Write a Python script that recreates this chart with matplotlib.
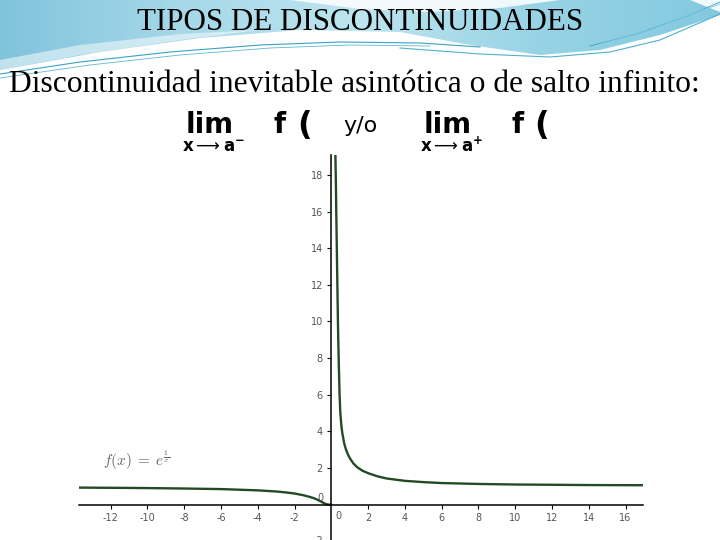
import numpy as np
import matplotlib
matplotlib.use("Agg")
import matplotlib.pyplot as plt
from matplotlib.patches import Polygon

# slide texts
title = "TIPOS DE DISCONTINUIDADES"
subtitle = "Discontinuidad inevitable asintótica o de salto infinito:"
func_label = r"$f(x)\;=\;e^{\frac{1}{x}}$"

# curve points, f(x) = e^(1/x)
x_left = [-13.72, -12, -10, -8, -6, -4, -3, -2.5, -2, -1.5, -1.2, -1.0,
          -0.8, -0.6, -0.45, -0.3, -0.2, -0.1, 0.0]
y_left = [0.93, 0.92, 0.905, 0.88, 0.85, 0.78, 0.72, 0.67, 0.61, 0.51, 0.43,
          0.37, 0.29, 0.19, 0.11, 0.036, 0.007, 0.0, 0.0]
x_right = [0.22, 0.25, 0.27, 0.30, 0.33, 0.36, 0.40, 0.45, 0.49, 0.55, 0.6,
           0.7, 0.8, 0.9, 1.0, 1.2, 1.4, 1.7, 2.0, 2.5, 3.0, 4.0, 5.0, 6.0,
           8.0, 10.0, 12.0, 14.0, 17.0]
y_right = [19.3, 17.5, 16.0, 14.0, 12.0, 10.0, 8.0, 6.0, 5.0, 4.3, 3.9,
           3.35, 3.0, 2.75, 2.55, 2.25, 2.05, 1.85, 1.72, 1.55, 1.43, 1.3,
           1.23, 1.18, 1.13, 1.10, 1.085, 1.07, 1.06]

x_ticks = [-12, -10, -8, -6, -4, -2, 2, 4, 6, 8, 10, 12, 14, 16]
y_ticks = [2, 4, 6, 8, 10, 12, 14, 16, 18]

fig = plt.figure(figsize=(7.2, 5.4), dpi=100)

# --- slide background (pixel coords) ---
bg = fig.add_axes([0, 0, 1, 1])
bg.set_xlim(0, 720)
bg.set_ylim(540, 0)
bg.axis("off")

edge_x = [0, 100, 200, 300, 400, 470, 540, 600, 660, 720]
edge_y = [70, 52, 38, 30, 32, 45, 55, 50, 35, 15]
band = Polygon([(0, 0), (720, 0)] + list(zip(edge_x[::-1], edge_y[::-1])),
               closed=True, facecolor="none", edgecolor="none")
bg.add_patch(band)
grad = np.linspace(0, 1, 256)[None, :]
cmap = matplotlib.colors.LinearSegmentedColormap.from_list(
    "slide", ["#80c4dc", "#a6d8e8", "#bde5ef", "#97d3e5", "#84c9e0"])
im = bg.imshow(grad, extent=(0, 720, 80, 0), cmap=cmap, aspect="auto", zorder=0)
im.set_clip_path(band)

# white swooshes
bg.add_patch(Polygon([(290, 0), (360, 9), (430, 12), (500, 8), (560, 0)],
                     closed=True, facecolor="white", edgecolor="none", alpha=0.85, zorder=1))
bg.add_patch(Polygon([(690, 0), (720, 0), (720, 12)],
                     closed=True, facecolor="white", edgecolor="none", alpha=0.9, zorder=1))
bg.add_patch(Polygon([(0, 60), (80, 45), (180, 34), (260, 30), (180, 40), (80, 55), (0, 70)],
                     closed=True, facecolor="white", edgecolor="none", alpha=0.5, zorder=1))

# thin teal lines
bg.plot([0, 80, 170, 260, 340, 420, 480], [74, 62, 52, 45, 42, 43, 47],
        color="#3aa2c0", lw=0.8, zorder=2)
bg.plot([0, 90, 180, 270, 350, 430], [78, 65, 55, 48, 45, 46],
        color="#5fb8d0", lw=0.6, zorder=2)
bg.plot([400, 480, 550, 610, 660, 720], [48, 54, 57, 52, 40, 14],
        color="#4fb0cc", lw=0.8, zorder=2)
bg.plot([590, 640, 690, 720], [46, 33, 15, 2], color="#3aa2c0", lw=0.6, zorder=2)
bg.plot([600, 650, 700, 720], [44, 30, 11, 4], color="#7ccbe0", lw=0.6, zorder=2)

bg.text(360, 23, title, family="Liberation Serif", fontsize=22.3,
        ha="center", va="center", color="black", zorder=3)
bg.text(354, 84, subtitle, family="Liberation Serif", fontsize=22.7,
        ha="center", va="center", color="black", zorder=3)

# limit notation
lim_kw = dict(family="DejaVu Sans", fontweight="bold", fontsize=20,
              va="baseline", color="black", zorder=3)
par_kw = dict(family="DejaVu Sans", fontweight="bold", fontsize=23,
              va="baseline", color="black", zorder=3)
sub_kw = dict(family="DejaVu Sans", fontweight="bold", fontsize=12,
              va="baseline", color="black", zorder=3)
bg.text(186, 133, "lim", **lim_kw)
bg.text(274, 133, "f", **lim_kw)
bg.text(297, 134, "(", **par_kw)
bg.text(424, 133, "lim", **lim_kw)
bg.text(511, 133, "f", **lim_kw)
bg.text(534, 134, "(", **par_kw)
bg.text(343, 132, "y/o", family="DejaVu Sans", fontsize=16, va="baseline", zorder=3)
bg.text(182, 152, r"x$\longrightarrow$a$^{\mathbf{-}}$", **sub_kw)
bg.text(420, 152, r"x$\longrightarrow$a$^{\mathbf{+}}$", **sub_kw)

# --- graph ---
ax = fig.add_axes([79 / 720, 0, 564 / 720, 385 / 540])
ax.set_facecolor("white")
ax.set_xlim(-13.72, 16.95)
ax.set_ylim(-1.93, 19.09)
for s in ["top", "right"]:
    ax.spines[s].set_visible(False)
ax.spines["left"].set_position(("data", 0))
ax.spines["bottom"].set_position(("data", 0))
ax.spines["left"].set_linewidth(1.1)
ax.spines["bottom"].set_linewidth(1.1)
ax.set_xticks(x_ticks)
ax.set_yticks(y_ticks)
ax.set_xticklabels([str(v) for v in x_ticks])
ax.set_yticklabels([str(v) for v in y_ticks])
ax.tick_params(direction="out", length=3, width=0.8, labelsize=7,
               labelcolor="#555555", pad=3)

ax.plot(x_left, y_left, color="#234a23", lw=1.7, solid_capstyle="round")
ax.plot(x_right, y_right, color="#234a23", lw=1.7, solid_capstyle="round")

ax.text(-0.45, 0.35, "0", fontsize=7, color="#555555", ha="right", va="center")
ax.text(0.2, -0.62, "0", fontsize=7, color="#555555", ha="left", va="center")
ax.text(-0.45, -2.0, "-2", fontsize=7, color="#555555", ha="right", va="center",
        clip_on=False)

plt.rcParams["mathtext.fontset"] = "cm"
ax.text(-12.4, 2.4, func_label, fontsize=11, color="#666666", ha="left", va="center")

fig.savefig("out.png", dpi=100)
